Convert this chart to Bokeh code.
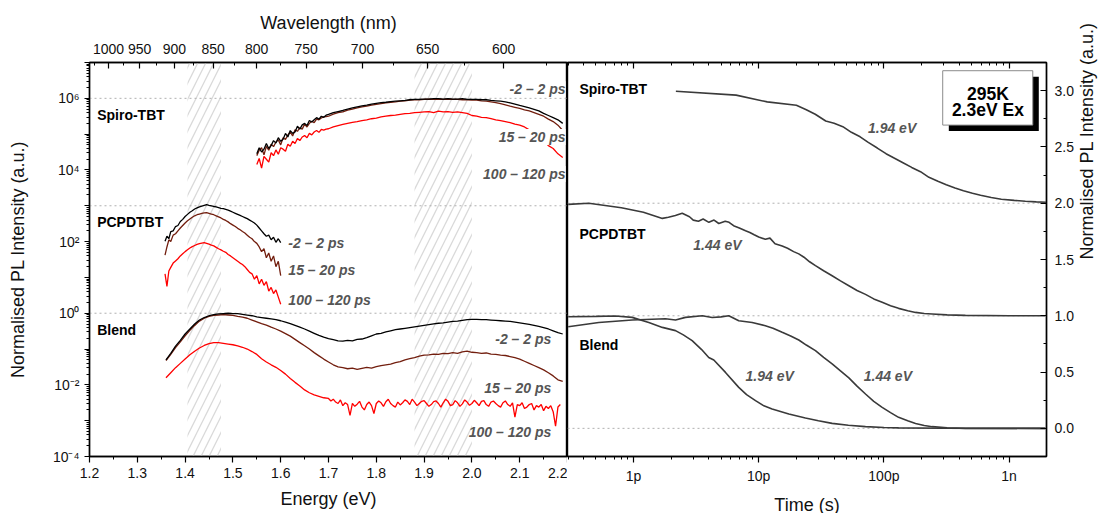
import math
from bokeh.plotting import figure
from bokeh.layouts import row
from bokeh.models import (LinearAxis, LogAxis, FixedTicker, CustomJSTickFormatter,
                          PrintfTickFormatter, Range1d, BoxAnnotation, Span, Label)
from bokeh.embed import file_html
from bokeh.resources import INLINE

FONT = "Liberation Sans"
BLACK = "#000000"
BROWN = "#721e0e"
RED = "#ff0000"
TRACE = "#3a3a3a"
NOTE = "#555555"
DOT = "#b0b0b0"
HATCH = "#d9d9d9"


def grid(start, n, step):
    return [round(start + i * step, 4) for i in range(n)]


# ---------------- left panel: PL spectra (energy eV, log10 of normalised PL) ----------
# Spiro-TBT: fine sampling (0.005 eV) up to 1.695 eV, then 0.01 eV up to 2.19 eV
SPIRO_EARLY_HEAD = [4.45, 4.62, 4.50, 4.58, 4.74, 4.60, 4.68, 4.82, 4.75, 4.90,
                    4.80, 4.86, 5.02, 4.92, 5.10, 5.02, 5.06, 5.22, 5.14, 5.26,
                    5.30, 5.24, 5.38, 5.34, 5.40, 5.46, 5.42, 5.50, 5.47, 5.53]
SPIRO_EARLY_TAIL = [5.55, 5.60, 5.63, 5.66, 5.70,
                    5.73, 5.76, 5.79, 5.81, 5.84, 5.86, 5.88, 5.89, 5.91, 5.92,
                    5.93, 5.94, 5.96, 5.97, 5.97, 5.98, 5.98, 5.99, 5.99, 5.98,
                    5.99, 5.98, 5.98, 5.99, 5.97, 5.97, 5.97, 5.96, 5.96, 5.94,
                    5.93, 5.92, 5.90, 5.87, 5.84, 5.80, 5.77, 5.73, 5.69, 5.65,
                    5.58, 5.52, 5.46, 5.40, 5.30]
SPIRO_MID_HEAD = [4.40, 4.55, 4.62, 4.42, 4.66, 4.55, 4.72, 4.65, 4.78, 4.84,
                  4.70, 4.90, 4.85, 4.98, 5.06, 4.95, 5.12, 5.08, 5.18, 5.14,
                  5.28, 5.20, 5.30, 5.36, 5.32, 5.42, 5.40, 5.45, 5.48, 5.49]
SPIRO_MID_TAIL = [5.50, 5.56, 5.60, 5.62, 5.67,
                  5.70, 5.73, 5.76, 5.78, 5.81, 5.83, 5.85, 5.87, 5.89, 5.90,
                  5.92, 5.93, 5.95, 5.96, 5.96, 5.97, 5.98, 5.97, 5.98, 5.97,
                  5.98, 5.97, 5.97, 5.96, 5.96, 5.95, 5.95, 5.93, 5.92, 5.90,
                  5.88, 5.85, 5.82, 5.78, 5.75, 5.72, 5.68, 5.65, 5.60, 5.55,
                  5.50, 5.42, 5.35, 5.25, 5.10]
SPIRO_LATE_HEAD = [4.15, 4.32, 4.05, 4.38, 4.30, 4.22, 4.48, 4.40, 4.56, 4.44,
                   4.62, 4.58, 4.52, 4.72, 4.66, 4.80, 4.74, 4.88, 4.82, 4.92,
                   4.96, 4.90, 5.02, 4.98, 5.06, 5.10, 5.05, 5.13, 5.11, 5.14]
SPIRO_LATE_TAIL = [5.15, 5.20, 5.24, 5.27, 5.30,
                   5.33, 5.35, 5.38, 5.40, 5.43, 5.45, 5.48, 5.50, 5.52, 5.53,
                   5.55, 5.57, 5.58, 5.60, 5.61, 5.62, 5.63, 5.60, 5.64, 5.62,
                   5.63, 5.61, 5.62, 5.60, 5.58, 5.52, 5.50, 5.47, 5.46, 5.43,
                   5.40, 5.38, 5.35, 5.32, 5.28, 5.25, 5.20, 5.12, 5.02, 4.92,
                   4.80, 4.68, 4.60, 4.45, 4.35]

PCP_E = [1.358, 1.362, 1.366, 1.370] + grid(1.375, 46, 0.005)
PCP_EARLY = [2.01, 2.15, 2.08, 2.28, 2.30, 2.42, 2.45, 2.56, 2.62, 2.70,
             2.76, 2.82, 2.86, 2.91, 2.94, 2.97, 2.99, 3.01, 3.03, 3.01,
             3.00, 2.98, 2.97, 2.95, 2.93, 2.92, 2.90, 2.88, 2.85, 2.82,
             2.79, 2.76, 2.73, 2.70, 2.67, 2.64, 2.60, 2.56, 2.52, 2.46,
             2.38, 2.30, 2.22, 2.15, 2.18, 2.05, 2.12, 1.98, 2.08, 1.97]
PCP_MID = [1.62, 1.85, 2.05, 2.00, 2.18, 2.22, 2.30, 2.38, 2.45, 2.52,
           2.58, 2.63, 2.68, 2.72, 2.75, 2.77, 2.79, 2.80, 2.81, 2.79,
           2.77, 2.75, 2.72, 2.69, 2.66, 2.62, 2.59, 2.55, 2.50, 2.46,
           2.42, 2.37, 2.33, 2.28, 2.24, 2.18, 2.12, 2.08, 2.00, 1.95,
           1.85, 1.72, 1.80, 1.55, 1.68, 1.45, 1.60, 1.30, 1.45, 1.05]
PCP_LATE = [1.10, 0.75, 1.18, 1.28, 1.40, 1.46, 1.52, 1.60, 1.66, 1.72,
            1.77, 1.82, 1.86, 1.89, 1.92, 1.94, 1.96, 1.97, 1.95, 1.93,
            1.90, 1.88, 1.84, 1.80, 1.77, 1.73, 1.70, 1.64, 1.60, 1.55,
            1.50, 1.45, 1.40, 1.36, 1.30, 1.22, 1.14, 1.10, 0.95, 1.05,
            0.82, 0.95, 0.78, 0.88, 0.62, 0.72, 0.55, 0.65, 0.45, 0.25]

BLEND_E = grid(1.36, 84, 0.01)
BLEND_EARLY = [-1.30, -1.12, -0.92, -0.76, -0.58, -0.44, -0.30, -0.19, -0.12, -0.07,
               -0.04, -0.02, -0.01, 0.00, -0.01, -0.01, -0.03, -0.05, -0.07, -0.10,
               -0.12, -0.14, -0.16, -0.18, -0.21, -0.25, -0.29, -0.34, -0.39, -0.44,
               -0.50, -0.56, -0.62, -0.67, -0.71, -0.74, -0.77, -0.78, -0.76, -0.77,
               -0.73, -0.72, -0.68, -0.63, -0.58, -0.56, -0.52, -0.49, -0.46, -0.44,
               -0.42, -0.40, -0.38, -0.36, -0.34, -0.32, -0.30, -0.28, -0.27, -0.25,
               -0.23, -0.22, -0.20, -0.18, -0.17, -0.17, -0.18, -0.18, -0.19, -0.20,
               -0.21, -0.22, -0.23, -0.25, -0.27, -0.29, -0.31, -0.34, -0.37, -0.40,
               -0.44, -0.49, -0.54, -0.58]
BLEND_MID = [-1.32, -1.15, -0.96, -0.80, -0.63, -0.48, -0.34, -0.22, -0.14, -0.09,
             -0.06, -0.05, -0.04, -0.05, -0.06, -0.09, -0.11, -0.14, -0.19, -0.24,
             -0.29, -0.33, -0.39, -0.44, -0.50, -0.57, -0.64, -0.73, -0.82, -0.91,
             -1.00, -1.10, -1.19, -1.28, -1.36, -1.44, -1.50, -1.52, -1.55, -1.53,
             -1.57, -1.54, -1.51, -1.53, -1.49, -1.46, -1.44, -1.42, -1.38, -1.35,
             -1.30, -1.27, -1.24, -1.20, -1.17, -1.16, -1.14, -1.15, -1.12, -1.13,
             -1.10, -1.12, -1.08, -1.06, -1.09, -1.10, -1.12, -1.11, -1.14, -1.15,
             -1.17, -1.18, -1.21, -1.24, -1.28, -1.34, -1.40, -1.46, -1.52, -1.58,
             -1.66, -1.75, -1.86, -1.90]
# 100-120 ps blend: 0.01 eV sampling up to 1.69 eV, then 0.005 eV (noisy floor)
BLEND_LATE_HEAD = [-1.80, -1.66, -1.52, -1.40, -1.28, -1.16, -1.06, -0.97, -0.90, -0.85,
                   -0.82, -0.82, -0.84, -0.86, -0.88, -0.91, -0.95, -1.00, -1.07, -1.15,
                   -1.27, -1.36, -1.44, -1.51, -1.60, -1.70, -1.82, -1.93, -2.03, -2.14,
                   -2.22, -2.28, -2.32, -2.36]
BLEND_LATE_TAIL = [-2.38, -2.45, -2.40, -2.48, -2.52, -2.42, -2.58, -2.50, -2.55, -2.85,
                   -2.52, -2.60, -2.54, -2.46, -2.62, -2.70, -2.55, -2.48, -2.58, -2.80,
                   -2.52, -2.45, -2.50, -2.60, -2.47, -2.40, -2.52, -2.58, -2.62, -2.48,
                   -2.56, -2.50, -2.42, -2.46, -2.55, -2.40, -2.48, -2.58, -2.52, -2.46,
                   -2.44, -2.52, -2.60, -2.55, -2.47, -2.45, -2.52, -2.62, -2.50, -2.40,
                   -2.46, -2.58, -2.55, -2.44, -2.50, -2.60, -2.53, -2.42, -2.48, -2.57,
                   -2.52, -2.43, -2.50, -2.58, -2.46, -2.44, -2.55, -2.60, -2.48, -2.45,
                   -2.52, -2.58, -2.62, -2.50, -2.45, -2.55, -2.60, -2.50, -2.90, -2.55,
                   -2.58, -2.50, -2.66, -2.62, -2.55, -2.52, -2.70, -2.58, -2.62, -2.55,
                   -2.72, -2.60, -2.66, -2.58, -2.75, -3.15, -2.62, -2.55]

SPIRO_E = grid(1.55, len(SPIRO_EARLY_HEAD), 0.005) + grid(1.70, len(SPIRO_EARLY_TAIL), 0.01)
BLEND_LATE_E = grid(1.36, len(BLEND_LATE_HEAD), 0.01) + grid(1.70, len(BLEND_LATE_TAIL), 0.005)

WINDOW_LABELS = ["-2 \u2013 2 ps", "15 \u2013 20 ps", "100 \u2013 120 ps"]
SAMPLES = ["Spiro-TBT", "PCPDTBT", "Blend"]
HATCH_BANDS = [(1.405, 1.475), (1.88, 2.00)]

ENERGY_TICKS = [1.2, 1.3, 1.4, 1.5, 1.6, 1.7, 1.8, 1.9, 2.0, 2.1, 2.2]
ENERGY_MINOR = [1.25, 1.35, 1.45, 1.55, 1.65, 1.75, 1.85, 1.95, 2.05, 2.15]
WAVELENGTH_TICKS = [1000, 950, 900, 850, 800, 750, 700, 650, 600]
WAVELENGTH_MINOR = [1025, 975, 925, 875, 825, 775, 725, 675, 625, 575]
HC = 1239.84
DECADES = [10.0 ** k for k in range(-4, 8)]
DECADE_MINOR = [m * 10.0 ** k for k in range(-4, 7) for m in range(2, 10)]

# ---------------- right panel: PL decay (time ps, normalised + offset) -----------------
SPIRO_T = [2.18, 6.6, 11.7, 20.0, 24, 28.3, 34.3, 40, 47, 55, 64.6, 75, 88.6, 104,
           121.6, 142, 166.7, 196, 229, 270, 315, 370, 432, 510, 592, 720, 867,
           1100, 1350, 1650, 1970]
SPIRO_DECAY = [2.995, 2.96, 2.90, 2.87, 2.83, 2.79, 2.73, 2.71, 2.68, 2.63, 2.59,
               2.54, 2.49, 2.44, 2.40, 2.36, 2.318, 2.28, 2.23, 2.195, 2.165,
               2.135, 2.11, 2.088, 2.07, 2.05, 2.035, 2.025, 2.018, 2.012, 2.008]

PCP_T = [0.301, 0.44, 0.8, 1.2, 1.70, 1.9, 2.16, 2.45, 2.8, 3.0, 3.3, 3.6, 4.0, 4.4,
         4.8, 5.4, 5.8, 6.3, 7.0, 7.85, 8.5, 9.2, 10, 11.3, 12.3, 13.5, 15.4, 17,
         19, 20.9, 23, 25.5, 28.4, 33, 38.6, 45, 52.5, 61, 71.3, 83, 96.9, 113,
         131, 155, 179, 210, 243, 320, 448, 1000, 1950]
PCP_DECAY = [1.99, 2.00, 1.96, 1.92, 1.865, 1.875, 1.89, 1.91, 1.88, 1.85, 1.84,
             1.86, 1.83, 1.85, 1.82, 1.84, 1.83, 1.80, 1.78, 1.755, 1.74, 1.72,
             1.70, 1.68, 1.69, 1.64, 1.62, 1.60, 1.57, 1.55, 1.52, 1.48, 1.445,
             1.40, 1.356, 1.31, 1.267, 1.225, 1.19, 1.15, 1.12, 1.09, 1.066,
             1.045, 1.03, 1.02, 1.016, 1.008, 1.004, 1.0, 1.0]

BLEND_HI_T = [0.301, 0.5, 0.718, 0.976, 1.325, 1.70, 2.165, 2.5, 2.94, 3.5, 3.99,
              4.38, 5.43, 6.93, 8.0, 9.43, 11, 12.8, 17.4, 23.6, 30, 38.6, 52,
              71.3, 100, 131, 300, 1950]
BLEND_HI_DECAY = [0.992, 0.995, 0.998, 0.986, 0.94, 0.897, 0.868, 0.83, 0.78, 0.70,
                  0.63, 0.607, 0.497, 0.364, 0.30, 0.246, 0.20, 0.172, 0.128, 0.092,
                  0.068, 0.044, 0.028, 0.015, 0.008, 0.004, 0.001, 0.0]
BLEND_LO_T = [0.301, 0.528, 0.976, 1.80, 2.165, 2.6, 3.54, 4.25, 5.0, 5.77, 6.93,
              8.87, 11.3, 13, 15.4, 18, 20.9, 24, 28.4, 33, 38.6, 45, 52.5, 61,
              71.3, 83, 96.9, 113, 131, 155, 179, 210, 243, 320, 448, 1950]
BLEND_LO_DECAY = [0.903, 0.94, 0.962, 0.974, 0.962, 0.986, 1.0, 0.985, 0.99, 1.0,
                  0.956, 0.94, 0.912, 0.89, 0.853, 0.82, 0.785, 0.74, 0.69, 0.63,
                  0.572, 0.51, 0.448, 0.375, 0.305, 0.24, 0.187, 0.14, 0.098,
                  0.068, 0.044, 0.025, 0.015, 0.005, 0.0, 0.0]

TIME_TICKS = [1e-12, 1e-11, 1e-10, 1e-9]
TIME_TICK_LABELS = ["1p", "10p", "100p", "1n"]
TIME_MINOR = [m * 10.0 ** k for k in range(-13, -8) for m in range(2, 10)
              if 2.97e-13 <= m * 10.0 ** k <= 1.99e-9]
OFFSET_TICKS = [0.0, 0.5, 1.0, 1.5, 2.0, 2.5, 3.0]
OFFSET_MINOR = [-0.25, 0.25, 0.75, 1.25, 1.75, 2.25, 2.75, 3.25]
BOX_LINES = ["295K", "2.3eV Ex"]


def pw(vals):
    return [10.0 ** v for v in vals]


def ps(vals):
    return [v * 1e-12 for v in vals]


def style_axis(ax, tin, tout, min_in, min_out):
    ax.axis_line_color = "black"
    ax.axis_line_width = 1.4
    ax.major_tick_line_color = "black"
    ax.major_tick_line_width = 1.2
    ax.minor_tick_line_color = "black"
    ax.minor_tick_line_width = 1.0
    ax.major_tick_in = tin
    ax.major_tick_out = tout
    ax.minor_tick_in = min_in
    ax.minor_tick_out = min_out
    ax.major_label_text_font = FONT
    ax.major_label_text_font_size = "14px"
    ax.major_label_text_color = "#111111"
    ax.axis_label_text_font = FONT
    ax.axis_label_text_font_size = "18px"
    ax.axis_label_text_font_style = "normal"
    ax.axis_label_text_color = "#111111"


def note(p, x, y, text, align="left", color=NOTE, style="bold italic", size="14px", bg=None):
    lab = Label(x=x, y=y, text=text, text_font=FONT, text_font_size=size,
                text_font_style=style, text_color=color, text_align=align,
                text_baseline="middle")
    if bg is not None:
        lab.background_fill_color = bg
    p.add_layout(lab)


# =============================== left figure ===========================================
left = figure(frame_width=478, frame_height=394, min_border_left=89, min_border_right=0,
              min_border_top=62, min_border_bottom=57,
              x_range=Range1d(1.2, 2.2), y_range=Range1d(1e-4, 1e7), y_axis_type="log",
              output_backend="svg", toolbar_location=None)
left.xgrid.visible = False
left.ygrid.visible = False
left.outline_line_color = "black"
left.outline_line_width = 1.4
left.background_fill_color = "white"
left.border_fill_color = "white"

ya = left.yaxis[0]
ya.ticker = FixedTicker(ticks=DECADES, minor_ticks=DECADE_MINOR)
ya.formatter = CustomJSTickFormatter(code="""
const e = Math.round(Math.log10(tick));
if (e % 2 !== 0) { return ""; }
const sup = {"-": "\u207b", "0": "\u2070", "1": "\u00b9", "2": "\u00b2", "3": "\u00b3",
             "4": "\u2074", "5": "\u2075", "6": "\u2076", "7": "\u2077", "8": "\u2078", "9": "\u2079"};
return "10" + String(e).split("").map(c => sup[c]).join("");
""")
ya.axis_label = "Normalised PL Intensity (a.u.)"
style_axis(ya, 0, 5, 0, 3)
ya.major_label_standoff = 5
ya.axis_label_standoff = 22

xa = left.xaxis[0]
xa.ticker = FixedTicker(ticks=ENERGY_TICKS, minor_ticks=ENERGY_MINOR)
xa.formatter = PrintfTickFormatter(format="%.1f")
xa.axis_label = "Energy (eV)"
style_axis(xa, 0, 6, 0, 3)
xa.major_label_standoff = 5
xa.axis_label_standoff = 8

top = LinearAxis(ticker=FixedTicker(ticks=[HC / w for w in WAVELENGTH_TICKS],
                                    minor_ticks=[HC / w for w in WAVELENGTH_MINOR]),
                 formatter=CustomJSTickFormatter(code="return String(Math.round(1239.84 / tick));"),
                 axis_label="Wavelength (nm)")
style_axis(top, 6, 0, 3, 0)
top.major_label_standoff = 9
top.axis_label_standoff = 8
left.add_layout(top, "above")

for a, b in HATCH_BANDS:
    left.add_layout(BoxAnnotation(left=a, right=b, fill_alpha=0, line_alpha=0,
                                  hatch_pattern="/", hatch_color=HATCH, hatch_weight=1.3,
                                  hatch_scale=16, level="underlay"))
for lvl in [1e6, 1e3, 1e0]:
    left.add_layout(Span(location=lvl, dimension="width", line_color=DOT,
                         line_dash="2 3", line_width=1, level="underlay"))

spectra = [
    (BLEND_LATE_E, BLEND_LATE_HEAD + BLEND_LATE_TAIL, RED),
    (BLEND_E, BLEND_MID, BROWN),
    (BLEND_E, BLEND_EARLY, BLACK),
    (PCP_E, PCP_LATE, RED),
    (PCP_E, PCP_MID, BROWN),
    (PCP_E, PCP_EARLY, BLACK),
    (SPIRO_E, SPIRO_LATE_HEAD + SPIRO_LATE_TAIL, RED),
    (SPIRO_E, SPIRO_MID_HEAD + SPIRO_MID_TAIL, BROWN),
    (SPIRO_E, SPIRO_EARLY_HEAD + SPIRO_EARLY_TAIL, BLACK),
]
for ex, vals, col in spectra:
    left.line(ex, pw(vals), line_color=col, line_width=1.3)

note(left, 1.216, 10 ** 5.53, SAMPLES[0], color="black", style="bold")
note(left, 1.216, 10 ** 2.54, SAMPLES[1], color="black", style="bold")
note(left, 1.216, 10 ** -0.475, SAMPLES[2], color="black", style="bold")

note(left, 2.196, 10 ** 6.25, WINDOW_LABELS[0], align="right", bg="white")
note(left, 2.196, 10 ** 4.92, WINDOW_LABELS[1], align="right", bg="white")
note(left, 2.196, 10 ** 3.89, WINDOW_LABELS[2], align="right", bg="white")
note(left, 1.616, 10 ** 1.96, WINDOW_LABELS[0])
note(left, 1.616, 10 ** 1.22, WINDOW_LABELS[1])
note(left, 1.616, 10 ** 0.38, WINDOW_LABELS[2])
note(left, 2.166, 10 ** -0.71, WINDOW_LABELS[0], align="right")
note(left, 2.166, 10 ** -2.10, WINDOW_LABELS[1], align="right")
note(left, 2.166, 10 ** -3.32, WINDOW_LABELS[2], align="right")

# =============================== right figure ==========================================
right = figure(frame_width=479, frame_height=394, min_border_left=0, min_border_right=54,
               min_border_top=62, min_border_bottom=57,
               x_range=Range1d(2.97e-13, 1.99e-9), y_range=Range1d(-0.25, 3.25),
               x_axis_type="log", y_axis_location="right",
               output_backend="svg", toolbar_location=None)
right.xgrid.visible = False
right.ygrid.visible = False
right.outline_line_color = "black"
right.outline_line_width = 1.4
right.background_fill_color = "white"
right.border_fill_color = "white"

bx = right.xaxis[0]
bx.ticker = FixedTicker(ticks=TIME_TICKS, minor_ticks=TIME_MINOR)
bx.formatter = CustomJSTickFormatter(args=dict(vals=TIME_TICKS, labels=TIME_TICK_LABELS), code="""
for (let i = 0; i < vals.length; i++) {
  if (Math.abs(Math.log10(vals[i]) - Math.log10(tick)) < 1e-6) { return labels[i]; }
}
return "";
""")
bx.axis_label = "Time (s)"
style_axis(bx, 0, 6, 0, 3)
bx.major_label_standoff = 5
bx.axis_label_standoff = 8

tx = LogAxis(ticker=FixedTicker(ticks=TIME_TICKS, minor_ticks=TIME_MINOR),
             formatter=CustomJSTickFormatter(code="return '';"))
style_axis(tx, 6, 0, 3, 0)
right.add_layout(tx, "above")

ry = right.yaxis[0]
ry.ticker = FixedTicker(ticks=OFFSET_TICKS, minor_ticks=OFFSET_MINOR)
ry.formatter = PrintfTickFormatter(format="%.1f")
ry.axis_label = "Normalised PL Intensity (a.u.)"
style_axis(ry, 6, 0, 3, 0)
ry.major_label_standoff = 8
ry.axis_label_standoff = 10
ry.axis_label_orientation = math.pi / 2

for lvl in [2.0, 1.0, 0.0]:
    right.add_layout(Span(location=lvl, dimension="width", line_color=DOT,
                          line_dash="2 3", line_width=1, level="underlay"))

for tt, vv in [(SPIRO_T, SPIRO_DECAY), (PCP_T, PCP_DECAY),
               (BLEND_HI_T, BLEND_HI_DECAY), (BLEND_LO_T, BLEND_LO_DECAY)]:
    right.line(ps(tt), vv, line_color=TRACE, line_width=1.6)

note(right, 3.7e-13, 3.017, SAMPLES[0], color="black", style="bold")
note(right, 3.7e-13, 1.73, SAMPLES[1], color="black", style="bold")
note(right, 3.7e-13, 0.74, SAMPLES[2], color="black", style="bold")
note(right, 74.6e-12, 2.67, "1.94 eV")
note(right, 3.0e-12, 1.63, "1.44 eV")
note(right, 7.85e-12, 0.468, "1.94 eV")
note(right, 69e-12, 0.468, "1.44 eV")

# condition box with drop shadow
right.quad(left=[3.3e-10], right=[1.727e-9], bottom=[2.641], top=[3.124],
           fill_color="black", line_color=None)
right.quad(left=[2.95e-10], right=[1.546e-9], bottom=[2.694], top=[3.177],
           fill_color="white", line_color="#8c8c8c", line_width=1)
note(right, 6.77e-10, 2.968, BOX_LINES[0], align="center", color="black", style="bold", size="17.5px")
note(right, 6.77e-10, 2.828, BOX_LINES[1], align="center", color="black", style="bold", size="17.5px")

layout = row(left, right, spacing=0)
with open("out.html", "w", encoding="utf-8") as f:
    f.write(file_html(layout, INLINE))
